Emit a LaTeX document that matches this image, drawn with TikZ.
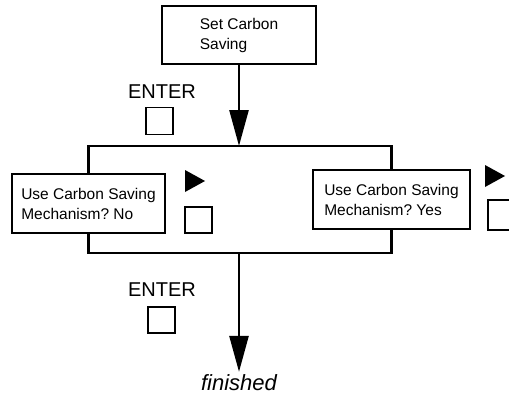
\documentclass[tikz,border=0pt]{standalone}
\usepackage{fontspec}
\setmainfont{Liberation Sans}
\usepackage{tikz}
\usetikzlibrary{arrows.meta, positioning, calc}
\frenchspacing

\begin{document}
\begin{tikzpicture}[x=1pt, y=-1pt,
        menubox/.style={draw, line width=2pt, fill=white, align=left, font=\fontsize{15.5}{20}\selectfont, inner sep=0pt},
        keybox/.style={draw, line width=1.8pt, inner sep=0pt},
        keylabel/.style={font=\fontsize{20}{24}\selectfont, inner sep=0pt},
        flow/.style={line width=2.6pt},
        flowarrow/.style={flow, -{Triangle[length=36pt, width=19pt]}}]
        \clip (0,0) rectangle (509,404);

        % Box 1 (top, menu entry)
        \node[menubox, minimum width=154pt, minimum height=58pt] (setcs) at (239,35) {Set Carbon\\Saving};

        % Box 2 (left, answer No)
        \node[menubox, minimum width=153pt, minimum height=59pt] (csno) at (88.5,203.5) {Use Carbon Saving\\Mechanism? No};

        % Box 3 (right, answer Yes)
        \node[menubox, minimum width=157pt, minimum height=59pt] (csyes) at (391.5,199.5) {Use Carbon Saving\\Mechanism? Yes};

        % branching and joining points
        \coordinate (split) at (239,146);
        \coordinate (merge) at (239,253);

        % connectors
        \draw[flowarrow] (setcs.south) -- (split);
        \draw[flow] (csno.north) |- (split) -| (csyes.north);
        \draw[flow] (csno.south) |- (merge) -| (csyes.south);

        % end label
        \node[keylabel, font=\fontsize{22}{26}\selectfont\itshape, anchor=base, inner sep=2pt] (done) at (239,390) {finished};
        \draw[flowarrow] (merge) -- (done.north);

        % ENTER keys
        \node[keylabel] (enter1) at (162,92) {ENTER};
        \node[keybox, minimum width=27pt, minimum height=27pt] (key1) at (159.5,121) {};
        \node[keylabel] (enter2) at (162,290) {ENTER};
        \node[keybox, minimum width=27pt, minimum height=26pt] (key2) at (161.5,320) {};

        % arrow keys next to the answers
        \fill (185,170) -- (205,181) -- (185,192) -- cycle;
        \node[keybox, minimum width=27pt, minimum height=26pt] (key3) at (198.5,220) {};
        \fill (485,165) -- (505,176) -- (485,187) -- cycle;
        \node[keybox, minimum width=27pt, minimum height=30pt] (key4) at (501.5,215) {};
\end{tikzpicture}
\end{document}
